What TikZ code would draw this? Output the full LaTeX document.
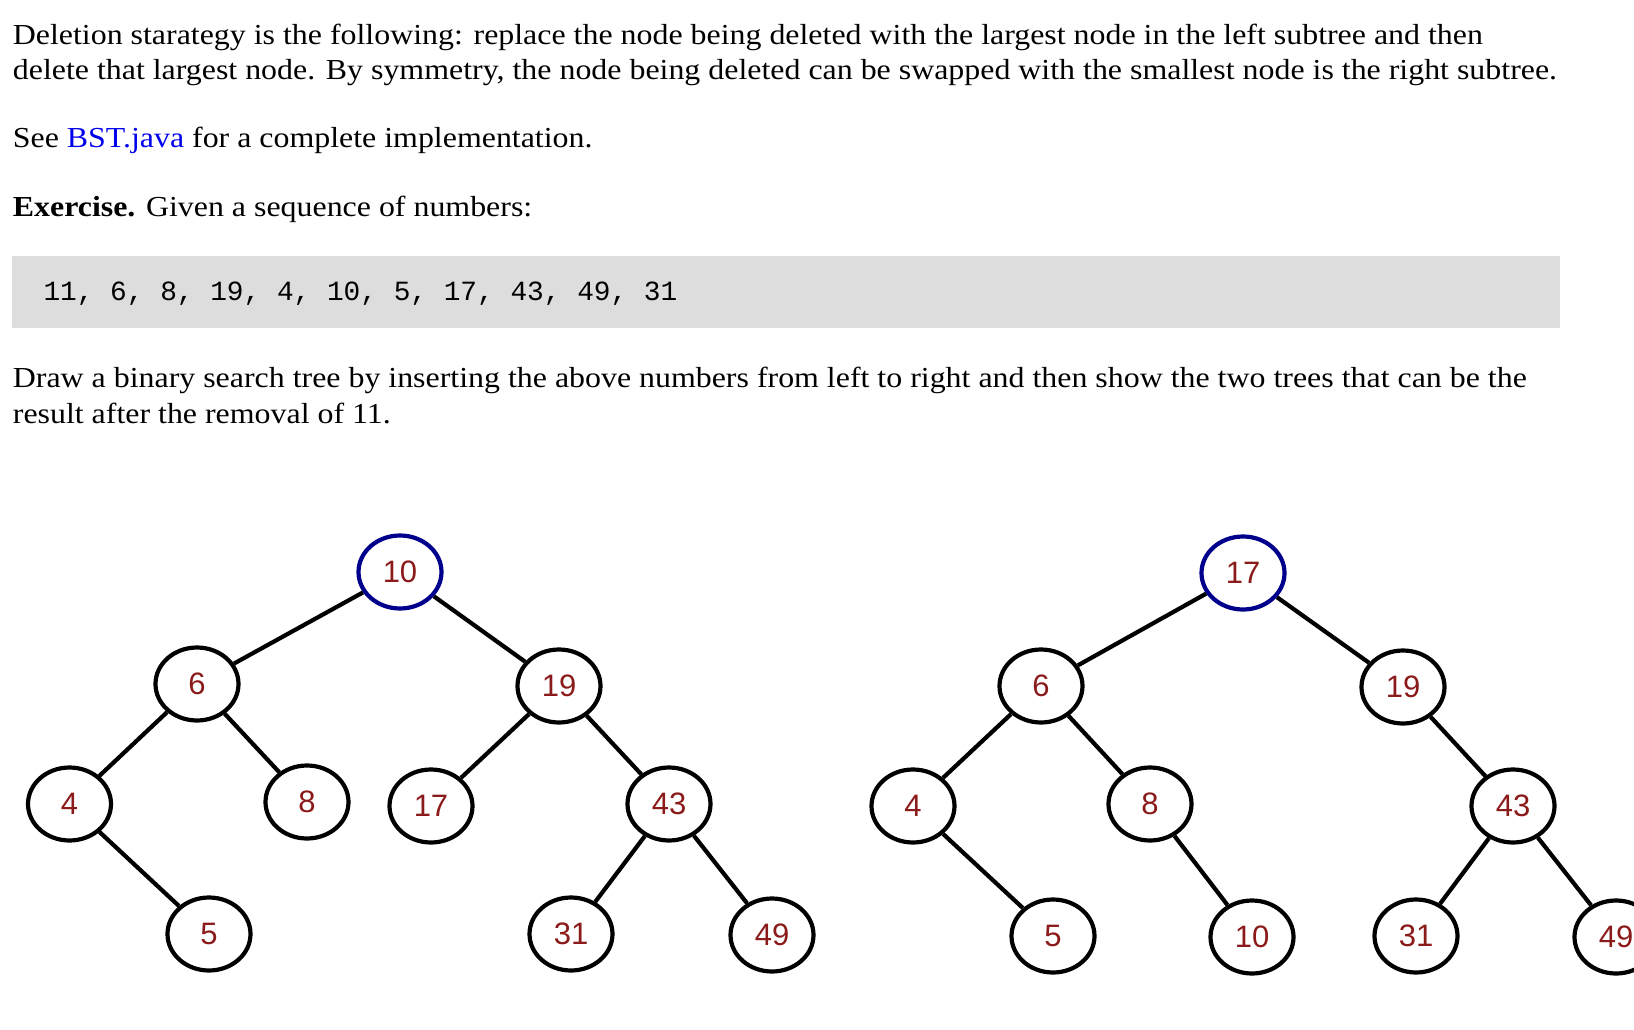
\documentclass[tikz,border=0pt]{standalone}
\usepackage{fontspec}
\setmainfont[FakeStretch=1.1]{Liberation Serif}
\setmonofont{Liberation Mono}
\newfontfamily\nodefont{Liberation Sans}
\usetikzlibrary{shapes.geometric}
\definecolor{linkblue}{RGB}{0,0,238}
\definecolor{codegray}{RGB}{221,221,221}
\definecolor{numred}{RGB}{139,26,26}
\definecolor{rootblue}{RGB}{0,0,140}
\tikzset{
  para/.style={anchor=base west, inner sep=0pt, font=\fontsize{29}{36}\selectfont},
  code/.style={anchor=base west, inner sep=0pt, font=\ttfamily\fontsize{27.8}{34}\selectfont},
  bst/.style={ellipse, draw=black, line width=4.2pt, minimum width=83pt, minimum height=73pt,
    inner sep=0pt, text=numred, font=\nodefont\fontsize{31}{31}\selectfont},
  rootnode/.style={bst, draw=rootblue},
  edge/.style={line width=4.2pt, black}
}
\begin{document}
\begin{tikzpicture}[x=1pt,y=-1pt]
\useasboundingbox (0,0) rectangle (1634,1030);
\clip (0,0) rectangle (1634,1030);
% text
\node[para] (l1) at (12.7,44.3) {Deletion starategy is the following: replace the node being deleted with the largest node in the left subtree and then};
\node[para] (l2) at (12.7,80) {delete that largest node. By symmetry, the node being deleted can be swapped with the smallest node is the right subtree.};
\node[para] (l3) at (12.7,147.7) {See \textcolor{linkblue}{BST.java} for a complete implementation.};
\node[para] (l4) at (12.7,216) {\textbf{Exercise.} Given a sequence of numbers:};
\fill[codegray] (12,256) rectangle (1560,327.7);
\node[code] (seq) at (43.3,300) {11, 6, 8, 19, 4, 10, 5, 17, 43, 49, 31};
\node[para] (l5) at (12.7,387.7) {Draw a binary search tree by inserting the above numbers from left to right and then show the two trees that can be the};
\node[para] (l6) at (12.7,423.3) {result after the removal of 11.};
% tree 1
\node[rootnode] (a10) at (400,572) {10};
\node[bst] (a6) at (197,684) {6};
\node[bst] (a19) at (559,686) {19};
\node[bst] (a4) at (69.5,804) {4};
\node[bst] (a8) at (307,802) {8};
\node[bst] (a17) at (431,806) {17};
\node[bst] (a43) at (669,804) {43};
\node[bst] (a5) at (209,934) {5};
\node[bst] (a31) at (571,934) {31};
\node[bst] (a49) at (772,935) {49};
\draw[edge] (a10) -- (a6);
\draw[edge] (a10) -- (a19);
\draw[edge] (a6) -- (a4);
\draw[edge] (a6) -- (a8);
\draw[edge] (a4) -- (a5);
\draw[edge] (a19) -- (a17);
\draw[edge] (a19) -- (a43);
\draw[edge] (a43) -- (a31);
\draw[edge] (a43) -- (a49);
% tree 2
\node[rootnode] (b17) at (1243,573) {17};
\node[bst] (b6) at (1041,686) {6};
\node[bst] (b19) at (1403,687) {19};
\node[bst] (b4) at (913,806) {4};
\node[bst] (b8) at (1150,804) {8};
\node[bst] (b43) at (1513,806) {43};
\node[bst] (b5) at (1053,936) {5};
\node[bst] (b10) at (1252,937) {10};
\node[bst] (b31) at (1416,936) {31};
\node[bst] (b49) at (1616,937) {49};
\draw[edge] (b17) -- (b6);
\draw[edge] (b17) -- (b19);
\draw[edge] (b6) -- (b4);
\draw[edge] (b6) -- (b8);
\draw[edge] (b4) -- (b5);
\draw[edge] (b8) -- (b10);
\draw[edge] (b19) -- (b43);
\draw[edge] (b43) -- (b31);
\draw[edge] (b43) -- (b49);
\end{tikzpicture}
\end{document}
